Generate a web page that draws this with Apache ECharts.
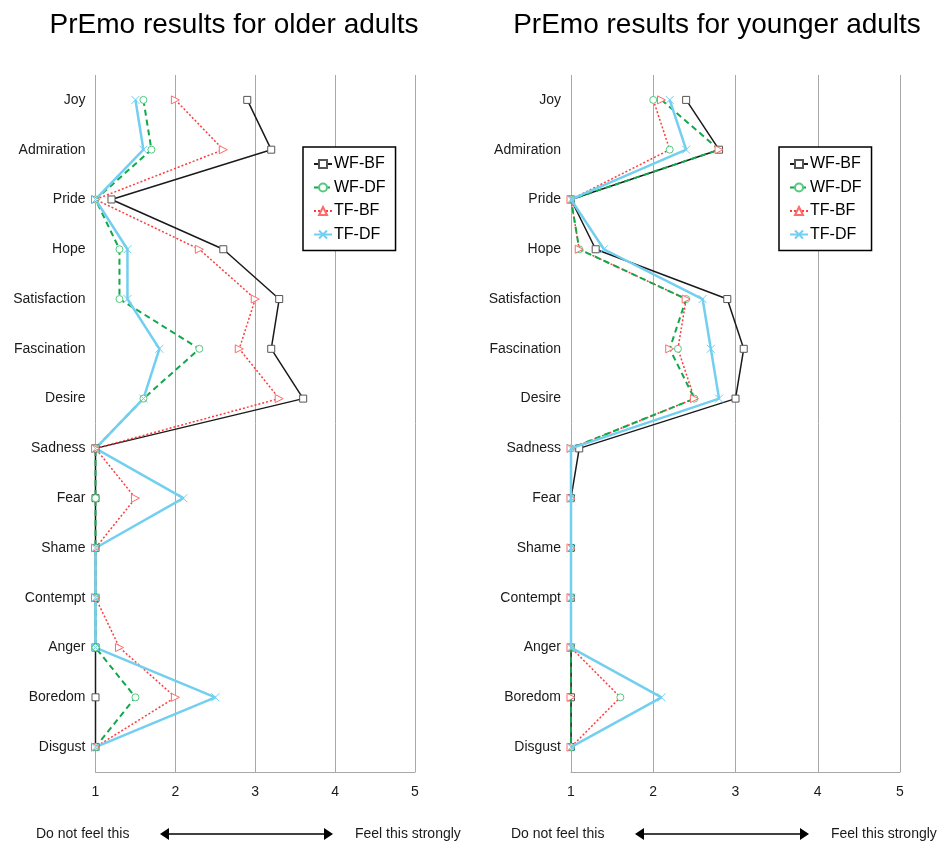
<!DOCTYPE html>
<html>
<head>
<meta charset="utf-8">
<script src="https://cdn.jsdelivr.net/npm/echarts@6/dist/echarts.min.js"></script>
<style>html,body{margin:0;padding:0;background:#fff}#c{width:943px;height:843px}</style>
</head>
<body>
<div id="c"></div>
<script>
// ---- data ----
const categories = ['Joy','Admiration','Pride','Hope','Satisfaction','Fascination','Desire','Sadness','Fear','Shame','Contempt','Anger','Boredom','Disgust'];
const seriesNames = ['WF-BF','WF-DF','TF-BF','TF-DF'];
const xTicks = [1,2,3,4,5];
const titles = ['PrEmo results for older adults','PrEmo results for younger adults'];
const scaleLow = 'Do not feel this';
const scaleHigh = 'Feel this strongly';

// older adults
const olderWFBF = [2.9,3.2,1.2,2.6,3.3,3.2,3.6,1,1,1,1,1,1,1];
const olderWFDF = [1.6,1.7,1,1.3,1.3,2.3,1.6,1,1,1,1,1,1.5,1];
const olderTFBF = [2.0,2.6,1,2.3,3.0,2.8,3.3,1,1.5,1,1,1.3,2.0,1];
const olderTFDF = [1.5,1.6,1,1.4,1.4,1.8,1.6,1,2.1,1,1,1,2.5,1];

// younger adults
const youngerWFBF = [2.4,2.8,1,1.3,2.9,3.1,3.0,1.1,1,1,1,1,1,1];
const youngerWFDF = [2.1,2.8,1,1.1,2.4,2.2,2.5,1,1,1,1,1,1,1];
const youngerTFBF = [2.0,2.2,1,1.1,2.4,2.3,2.5,1,1,1,1,1,1.6,1];
const youngerTFDF = [2.2,2.4,1,1.4,2.6,2.7,2.8,1,1,1,1,1,2.1,1];

// ---- styles ----
const FONT = 'Liberation Sans, Arial, sans-serif';
const C_BLACK = '#1a1a1a', C_GREEN = '#10a84a', C_RED = '#ff3b3b', C_BLUE = '#72cff0';
const GRID_COLOR = '#a8a8a8';
const xPath = 'path://M0,0L10,10M10,0L0,10';

const styleOf = {
  'WF-BF': {line:{color:C_BLACK,width:1.5,type:'solid'}, symbol:'rect', size:7, item:{color:'#fff',borderColor:'#555',borderWidth:1}},
  'WF-DF': {line:{color:C_GREEN,width:2,type:[6,4]}, symbol:'circle', size:7, item:{color:'#fff',borderColor:'#55c97f',borderWidth:1}},
  'TF-BF': {line:{color:C_RED,width:1.5,type:[2,2]}, symbol:'triangle', size:8, rotate:-90, item:{color:'#fff',borderColor:'#ff6a6a',borderWidth:1}},
  'TF-DF': {line:{color:C_BLUE,width:2.5,type:'solid'}, symbol:xPath, size:8, item:{color:C_BLUE,borderColor:C_BLUE,borderWidth:1}}
};

const grids = [
  {left:95.5, right:943-415, top:75, bottom:843-772},
  {left:571, right:943-900, top:75, bottom:843-772}
];

function mkSeries(name, data, idx, markerFrom, z){
  const s = styleOf[name];
  const m = styleOf[markerFrom || name];
  return {
    name, type:'line', data, xAxisIndex:idx, yAxisIndex:idx,
    symbol:m.symbol, symbolSize:m.size, symbolRotate:m.rotate||0, showAllSymbol:true,
    lineStyle:s.line, itemStyle:m.item, emphasis:{disabled:true}, animation:false, z: z||3
  };
}

const series = [
  mkSeries('WF-BF', olderWFBF, 0),
  mkSeries('WF-DF', olderWFDF, 0),
  mkSeries('TF-BF', olderTFBF, 0),
  mkSeries('TF-DF', olderTFDF, 0),
  mkSeries('WF-BF', youngerWFBF, 1),
  mkSeries('WF-DF', youngerWFDF, 1, 'TF-BF', 4),
  mkSeries('TF-BF', youngerTFBF, 1, 'WF-DF'),
  mkSeries('TF-DF', youngerTFDF, 1, null, 5)
];

function mkXAxis(idx){
  return {
    type:'value', gridIndex:idx, min:xTicks[0], max:xTicks[xTicks.length-1], interval:1,
    axisLine:{show:true, lineStyle:{color:GRID_COLOR, width:1}},
    axisTick:{show:false},
    axisLabel:{color:'#1a1a1a', fontFamily:FONT, fontSize:14, margin:13},
    splitLine:{show:true, lineStyle:{color:GRID_COLOR, width:1}}
  };
}
function mkYAxis(idx){
  return {
    type:'category', gridIndex:idx, data:categories, inverse:true, boundaryGap:true,
    axisLine:{show:false}, axisTick:{show:false},
    axisLabel:{color:'#1a1a1a', fontFamily:FONT, fontSize:14, margin:10},
    splitLine:{show:false}
  };
}

function mkLegend(left){
  return {
    orient:'vertical', left:left, top:147,
    data:seriesNames, itemWidth:18, itemHeight:10, itemGap:7.5,
    symbolRotate:0,
    padding:[9,10,8,10],
    borderColor:'#000', borderWidth:1.5, backgroundColor:'#fff',
    textStyle:{fontFamily:FONT, fontSize:16, color:'#000', padding:[0,0,0,-3]},
    selectedMode:false, inactiveColor:'#000'
  };
}

function arrow(x1, x2, y){
  const h = 6, L = 9;
  return {type:'group', silent:true, children:[
    {type:'line', shape:{x1:x1+L-1, y1:y, x2:x2-L+1, y2:y}, style:{stroke:'#000', lineWidth:1.5}},
    {type:'polygon', shape:{points:[[x1,y],[x1+L,y-h],[x1+L,y+h]]}, style:{fill:'#000'}},
    {type:'polygon', shape:{points:[[x2,y],[x2-L,y-h],[x2-L,y+h]]}, style:{fill:'#000'}}
  ]};
}
function label(text, x, y){
  return {type:'text', left:x, top:y, silent:true,
    style:{text, fontFamily:FONT, fontSize:14, fill:'#1a1a1a'}};
}

const chart = echarts.init(document.getElementById('c'), null, {renderer:'canvas'});
chart.setOption({
  backgroundColor:'#fff',
  animation:false,
  title:[
    {text:titles[0], left:229, top:6, textAlign:'center', textStyle:{fontFamily:FONT, fontSize:28, fontWeight:'normal', color:'#000'}},
    {text:titles[1], left:712, top:6, textAlign:'center', textStyle:{fontFamily:FONT, fontSize:28, fontWeight:'normal', color:'#000'}}
  ],
  grid:grids,
  xAxis:[mkXAxis(0), mkXAxis(1)],
  yAxis:[mkYAxis(0), mkYAxis(1)],
  legend:[mkLegend(303), mkLegend(779)],
  series,
  graphic:[
    label(scaleLow, 36, 827), arrow(160, 333, 834), label(scaleHigh, 355, 827),
    label(scaleLow, 511, 827), arrow(635, 809, 834), label(scaleHigh, 831, 827)
  ]
});
</script>
</body>
</html>
